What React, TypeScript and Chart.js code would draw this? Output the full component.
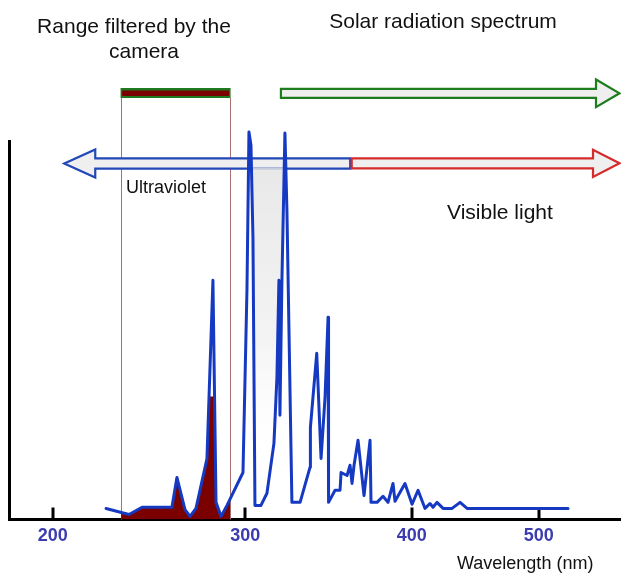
import React, { useEffect, useRef } from 'react';
import { Chart, registerables, LinearScale } from 'chart.js';

// ---------- data ----------
const WAVELENGTH_NM = [
  227.7, 239.6, 246.4, 261.9, 264.5, 268.7, 271.3, 274.4, 280.1, 283.2,
  284.8, 287.4, 290.5, 298.8, 301.0, 302.2, 303.4, 304.6, 305.8, 309.4,
  313.0, 317.2, 319.0, 320.2, 320.8, 322.0, 323.8, 325.0, 328.0, 332.9,
  338.9, 339.1, 342.9, 345.5, 347.9, 349.7, 350.0, 353.9, 356.9, 357.5,
  361.1, 362.9, 364.1, 365.3, 367.7, 371.3, 374.9, 375.5, 379.1, 382.7,
  385.7, 388.7, 389.9, 395.9, 400.2, 404.9, 410.4, 414.3, 416.7, 419.8,
  424.6, 431.7, 438.0, 443.5, 523.0,
];
const INTENSITY = [
  2.9, 1.3, 3.2, 3.2, 11.1, 2.6, 0.8, 2.9, 16.1, 63.2,
  4.5, 0.8, 3.7, 12.4, 60.6, 102.4, 98.9, 74.6, 3.7, 3.7,
  6.9, 20.1, 37.6, 63.2, 27.5, 63.2, 102.1, 81.7, 4.5, 4.5,
  13.8, 24.3, 43.9, 16.1, 32.3, 53.4, 4.5, 7.7, 7.7, 12.4,
  11.6, 14.3, 9.5, 14.3, 20.9, 6.3, 20.9, 4.5, 4.5, 6.1,
  4.5, 9.5, 4.8, 9.5, 4.0, 7.7, 2.9, 4.2, 3.2, 4.5,
  2.9, 2.9, 4.5, 2.9, 2.9,
];
// portion of the spectrum that passes the camera filter
const FILTERED_NM = [235.5, 239.6, 246.4, 261.9, 264.5, 268.7, 271.3, 274.4, 280.1, 281.2, 284.0, 284.8, 287.4, 290.5, 292.1];
const FILTERED_INTENSITY = [1.9, 1.3, 3.2, 3.2, 11.1, 2.6, 0.8, 2.9, 16.1, 32.5, 32.5, 4.5, 0.8, 3.7, 5.4];
const FILTER_RANGE_NM = [235.5, 292.1];
const SHADE_RANGE_NM = [302.2, 323.8];
const SHADE_TOP = 93;
const X_TICKS = [200, 300, 400, 500];
const UV_ARROW_TIP_NM = 206;
const UV_VIS_BOUNDARY_NM = 363;
const SOLAR_ARROW_START_NM = 321.4;

const TEXT_RANGE_1 = 'Range filtered by the';
const TEXT_RANGE_2 = 'camera';
const TEXT_SOLAR = 'Solar radiation spectrum';
const TEXT_UV = 'Ultraviolet';
const TEXT_VIS = 'Visible light';
const TEXT_AXIS = 'Wavelength (nm)';

// ---------- non-uniform wavelength axis ----------
const AXIS_BREAKS_NM = [177.3, 200, 300, 400, 500, 564.7];
const AXIS_FRACTIONS = [0, 0.0714, 0.3861, 0.6582, 0.8657, 1];

function interp(v: number, xs: number[], ys: number[]) {
  const n = xs.length;
  let i = 1;
  while (i < n - 1 && v > xs[i]) i++;
  const t = (v - xs[i - 1]) / (xs[i] - xs[i - 1]);
  return ys[i - 1] + t * (ys[i] - ys[i - 1]);
}

class PiecewiseScale extends LinearScale {
  static id = 'piecewise';
  static defaults = LinearScale.defaults;
  getPixelForValue(value: any) {
    if (value === null || value === undefined || isNaN(value)) return NaN;
    return this.getPixelForDecimal(interp(value, AXIS_BREAKS_NM, AXIS_FRACTIONS));
  }
  getValueForPixel(pixel: number) {
    return interp(this.getDecimalForPixel(pixel), AXIS_FRACTIONS, AXIS_BREAKS_NM);
  }
}

Chart.register(...registerables, PiecewiseScale as any);

const FONT = '"Liberation Sans", Arial, Helvetica, sans-serif';

function arrowPath(ctx: CanvasRenderingContext2D, xStart: number, xHead: number, xTip: number, cy: number, sh: number, hh: number) {
  ctx.beginPath();
  ctx.moveTo(xStart, cy - sh);
  ctx.lineTo(xHead, cy - sh);
  ctx.lineTo(xHead, cy - hh);
  ctx.lineTo(xTip, cy);
  ctx.lineTo(xHead, cy + hh);
  ctx.lineTo(xHead, cy + sh);
  ctx.lineTo(xStart, cy + sh);
  ctx.closePath();
}

const decorPlugin = {
  id: 'decor',
  beforeDatasetsDraw(chart: any) {
    const { ctx, chartArea, scales } = chart;
    const x = scales.x;
    ctx.save();
    const xl = x.getPixelForValue(FILTER_RANGE_NM[0]);
    const xr = x.getPixelForValue(FILTER_RANGE_NM[1]);
    // vertical filter lines
    ctx.strokeStyle = '#a86f6f';
    ctx.lineWidth = 1;
    ctx.beginPath();
    ctx.moveTo(Math.round(xl) + 0.5, 98);
    ctx.lineTo(Math.round(xl) + 0.5, chartArea.bottom);
    ctx.moveTo(Math.round(xr) + 0.5, 98);
    ctx.lineTo(Math.round(xr) + 0.5, chartArea.bottom);
    ctx.stroke();
    // filter bar
    ctx.fillStyle = '#1f7a1f';
    ctx.fillRect(xl - 0.5, 88, xr - xl + 1, 10);
    ctx.fillStyle = '#7b0000';
    ctx.fillRect(xl + 1, 90.5, xr - xl - 2, 5.5);
    // arrows
    ctx.lineJoin = 'miter';
    ctx.lineWidth = 2.2;
    ctx.fillStyle = '#efefef';
    const right = chartArea.right;
    arrowPath(ctx, x.getPixelForValue(SOLAR_ARROW_START_NM), right - 25, right - 1.5, 93.3, 4.5, 13.8);
    ctx.fill();
    ctx.strokeStyle = '#1d7d1d';
    ctx.stroke();
    const xb = x.getPixelForValue(UV_VIS_BOUNDARY_NM);
    const xt = x.getPixelForValue(UV_ARROW_TIP_NM);
    arrowPath(ctx, xb, xt + 31, xt, 163.5, 5.2, 14);
    ctx.fill();
    ctx.strokeStyle = '#2147b8';
    ctx.stroke();
    arrowPath(ctx, xb + 1.5, right - 28, right - 1.5, 163.3, 5, 13.6);
    ctx.fill();
    ctx.strokeStyle = '#d62b2b';
    ctx.stroke();
    // inward tick marks
    ctx.strokeStyle = '#000';
    ctx.lineWidth = 3;
    ctx.beginPath();
    X_TICKS.forEach((v) => {
      const px = Math.round(x.getPixelForValue(v));
      ctx.moveTo(px, chartArea.bottom - 12);
      ctx.lineTo(px, chartArea.bottom);
    });
    ctx.stroke();
    ctx.restore();
  },
  afterDraw(chart: any) {
    const { ctx } = chart;
    ctx.save();
    ctx.fillStyle = '#111';
    ctx.textBaseline = 'alphabetic';
    ctx.textAlign = 'center';
    ctx.font = `21px ${FONT}`;
    ctx.fillText(TEXT_RANGE_1, 134, 33);
    ctx.fillText(TEXT_RANGE_2, 144, 58);
    ctx.fillText(TEXT_SOLAR, 443, 27.5);
    ctx.textAlign = 'left';
    ctx.fillText(TEXT_VIS, 447, 219);
    ctx.font = `18px ${FONT}`;
    ctx.fillText(TEXT_UV, 126, 193);
    ctx.fillText(TEXT_AXIS, 457, 569);
    ctx.restore();
  },
};

export default function App() {
  const ref = useRef<HTMLCanvasElement>(null);
  useEffect(() => {
    const spectrum = WAVELENGTH_NM.map((x, i) => ({ x, y: INTENSITY[i] }));
    const filtered = FILTERED_NM.map((x, i) => ({ x, y: FILTERED_INTENSITY[i] }));
    const shade = spectrum.filter((p) => p.x >= SHADE_RANGE_NM[0] && p.x <= SHADE_RANGE_NM[1]);
    const chart = new Chart(ref.current as HTMLCanvasElement, {
      type: 'line',
      data: {
        datasets: [
          {
            label: 'Solar radiation spectrum',
            data: spectrum,
            borderColor: '#1639c2',
            borderWidth: 3,
            pointRadius: 0,
            fill: false,
            tension: 0,
            borderJoinStyle: 'round',
            borderCapStyle: 'round',
            clip: false,
            order: 0,
          } as any,
          {
            label: 'Range filtered by the camera',
            data: filtered,
            borderColor: 'rgba(0,0,0,0)',
            borderWidth: 0,
            backgroundColor: '#7b0000',
            fill: 'origin',
            pointRadius: 0,
            tension: 0,
            order: 2,
          },
          {
            label: 'shade',
            data: shade,
            borderColor: 'rgba(0,0,0,0)',
            borderWidth: 0,
            backgroundColor: (c: any) => {
              const ch = c.chart;
              if (!ch.chartArea) return 'rgba(230,230,230,0.6)';
              const y = ch.scales.y;
              const g = ch.ctx.createLinearGradient(0, y.getPixelForValue(SHADE_TOP), 0, y.getPixelForValue(12));
              g.addColorStop(0, 'rgba(228,228,228,0.85)');
              g.addColorStop(0.55, 'rgba(238,238,238,0.7)');
              g.addColorStop(1, 'rgba(255,255,255,0)');
              return g;
            },
            fill: { value: SHADE_TOP },
            pointRadius: 0,
            tension: 0,
            order: 1,
          } as any,
        ],
      },
      options: {
        animation: false,
        responsive: false,
        events: [],
        layout: { padding: { left: 9, right: 0, top: 141, bottom: 20 } },
        plugins: { legend: { display: false }, tooltip: { enabled: false } },
        scales: {
          x: {
            type: 'piecewise' as any,
            min: AXIS_BREAKS_NM[0],
            max: AXIS_BREAKS_NM[AXIS_BREAKS_NM.length - 1],
            bounds: 'data',
            afterBuildTicks: (s: any) => {
              s.ticks = X_TICKS.map((value) => ({ value }));
            },
            grid: { display: true, drawOnChartArea: false, drawTicks: false },
            border: { display: true, color: '#000', width: 3 },
            ticks: {
              autoSkip: false,
              maxRotation: 0,
              color: '#3c3cb0',
              padding: 6,
              font: { family: FONT, size: 18, weight: 'bold' },
              callback: (v: any) => String(v),
            },
          } as any,
          y: {
            min: 0,
            max: 100,
            ticks: { display: false },
            grid: { display: true, drawOnChartArea: false, drawTicks: false },
            border: { display: true, color: '#000', width: 3 },
          },
        },
      },
      plugins: [decorPlugin],
    });
    return () => chart.destroy();
  }, []);
  return (
    <div style={{ position: 'absolute', left: 0, top: 0, width: 621, height: 573, background: '#fff' }}>
      <canvas ref={ref} width={621} height={573} style={{ display: 'block', width: 621, height: 573 }} />
    </div>
  );
}
